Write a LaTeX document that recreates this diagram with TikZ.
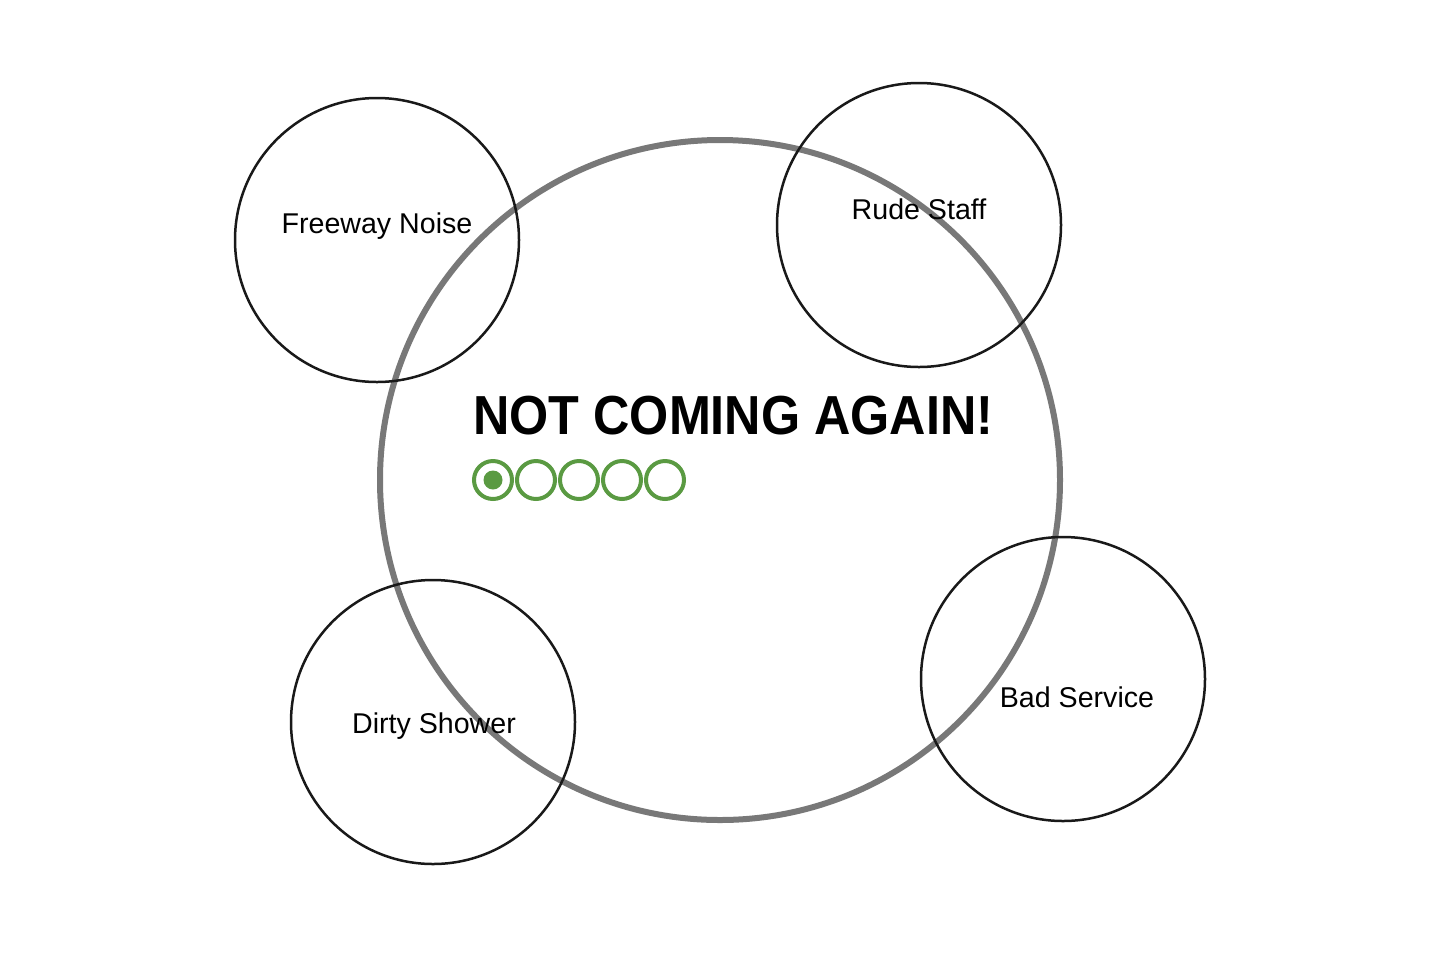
\documentclass[tikz,border=0pt]{standalone}
\usepackage{fontspec}
\setmainfont{Liberation Sans}
\newfontfamily\titlefont[FakeStretch=0.915]{Liberation Sans}
\definecolor{ringgray}{RGB}{120,120,120}
\definecolor{dotgreen}{RGB}{90,154,66}
\begin{document}
\begin{tikzpicture}[x=0.5pt,y=-0.5pt,
    reason/.style={shape=circle,draw=black!90,line width=1.25pt,minimum size=142pt,inner sep=0pt},
    reasontext/.style={anchor=base,inner sep=0pt,font=\fontsize{14.3}{17}\selectfont},
    rating/.style={shape=circle,draw=dotgreen,line width=2pt,minimum size=19pt,inner sep=0pt},
    ]
    \useasboundingbox (0,0) rectangle (1440,960);
    \node[shape=circle,draw=ringgray,line width=3pt,minimum size=340pt,inner sep=0pt] (verdict) at (720,480) {};
    \node[reason] (noise) at (377,240) {};
    \node[reason] (staff) at (919,225) {};
    \node[reason] (shower) at (433,722) {};
    \node[reason] (service) at (1063,679) {};
    \node[reasontext] (noise text) at (377,233) {Freeway Noise};
    \node[reasontext] (staff text) at (919,219) {Rude Staff};
    \node[reasontext] (shower text) at (434,733) {Dirty Shower};
    \node[reasontext] (service text) at (1077,707) {Bad Service};
    \node[anchor=base west,inner sep=0pt,font=\titlefont\fontsize{27.5}{32}\selectfont\bfseries] (title) at (473,434) {NOT COMING AGAIN!};
    \foreach \i in {0,...,4}
        \node[rating] (dot\i) at (493+43*\i,480) {};
    \node[shape=circle,fill=dotgreen,minimum size=9.5pt,inner sep=0pt] (dot fill) at (dot0) {};
\end{tikzpicture}
\end{document}
